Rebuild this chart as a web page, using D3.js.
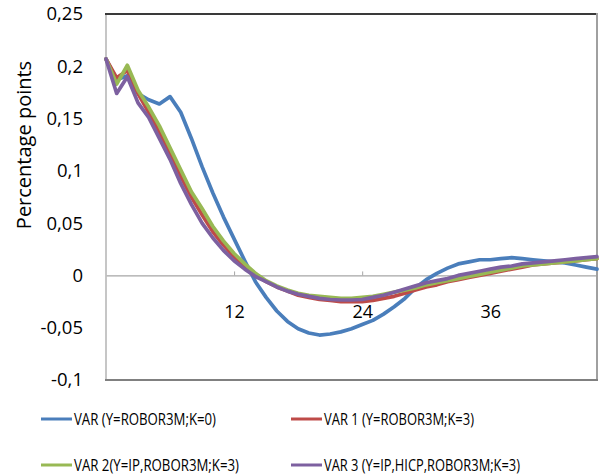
<!DOCTYPE html>
<html>
<head>
<meta charset="utf-8">
<script src="https://cdn.jsdelivr.net/npm/d3@7"></script>
<style>
  body { margin: 0; background: #fff; }
  text { font-family: "Open Sans", sans-serif; fill: #000; }
</style>
</head>
<body>
<svg id="chart" width="605" height="476"></svg>
<script>
// months after the shock, 0..46
var months = d3.range(0, 47);

var varBase = [0.207, 0.187, 0.191, 0.174, 0.168, 0.164, 0.171, 0.156, 0.131, 0.104,
  0.079, 0.056, 0.035, 0.014, -0.006, -0.021, -0.034, -0.044, -0.051, -0.055,
  -0.057, -0.056, -0.054, -0.051, -0.047, -0.043, -0.037, -0.030, -0.022, -0.012,
  -0.004, 0.002, 0.007, 0.011, 0.013, 0.015, 0.015, 0.016, 0.017, 0.016,
  0.015, 0.014, 0.013, 0.012, 0.010, 0.008, 0.006];

var var1 = [0.207, 0.189, 0.196, 0.174, 0.156, 0.137, 0.117, 0.095, 0.075, 0.058,
  0.042, 0.029, 0.018, 0.009, 0.001, -0.006, -0.011, -0.015, -0.019, -0.021,
  -0.023, -0.024, -0.025, -0.025, -0.025, -0.024, -0.022, -0.020, -0.017, -0.014,
  -0.011, -0.009, -0.006, -0.004, -0.002, 0.000, 0.002, 0.004, 0.006, 0.008,
  0.010, 0.011, 0.012, 0.013, 0.014, 0.015, 0.016];

var var2 = [0.207, 0.183, 0.201, 0.177, 0.161, 0.143, 0.122, 0.101, 0.080, 0.064,
  0.047, 0.033, 0.021, 0.011, 0.002, -0.005, -0.010, -0.014, -0.017, -0.019,
  -0.020, -0.021, -0.022, -0.022, -0.021, -0.020, -0.018, -0.016, -0.014, -0.012,
  -0.009, -0.007, -0.005, -0.003, -0.001, 0.001, 0.003, 0.005, 0.007, 0.009,
  0.010, 0.011, 0.012, 0.013, 0.014, 0.015, 0.016];

var var3 = [0.207, 0.174, 0.190, 0.165, 0.151, 0.131, 0.111, 0.088, 0.068, 0.050,
  0.036, 0.024, 0.014, 0.006, -0.001, -0.006, -0.011, -0.015, -0.018, -0.020,
  -0.022, -0.023, -0.0235, -0.0235, -0.023, -0.021, -0.019, -0.016, -0.013, -0.010,
  -0.007, -0.005, -0.003, 0.000, 0.002, 0.004, 0.006, 0.008, 0.009, 0.011,
  0.012, 0.013, 0.014, 0.015, 0.016, 0.017, 0.018];

var seriesNames = ["VAR (Y=ROBOR3M;K=0)", "VAR 1 (Y=ROBOR3M;K=3)",
  "VAR 2(Y=IP,ROBOR3M;K=3)", "VAR 3 (Y=IP,HICP,ROBOR3M;K=3)"];
var seriesColors = ["#4a7ebb", "#be4b48", "#98b954", "#7d60a0"];

var yTicks = [-0.1, -0.05, 0, 0.05, 0.1, 0.15, 0.2, 0.25];
var xTicks = [12, 24, 36];

var svg = d3.select("#chart");

var x = d3.scaleLinear().domain([0, 46]).range([106, 597]);
var y = d3.scaleLinear().domain([-0.1, 0.25]).range([380, 14]);

// comma as decimal mark
var loc = d3.formatLocale({decimal: ",", thousands: ".", grouping: [3], currency: ["", ""], minus: "-"});
var fmt = loc.format("~g");

// y axis labels
var yAxis = svg.append("g")
  .attr("transform", "translate(106,0)")
  .call(d3.axisLeft(y).tickValues(yTicks).tickFormat(fmt).tickSize(0).tickPadding(23));
yAxis.select(".domain").remove();
yAxis.selectAll("text").style("font-size", "18.5px").style("font-family", "Open Sans, sans-serif").attr("fill", "#000");

// x axis sits on zero
var xAxis = svg.append("g")
  .attr("transform", "translate(0," + y(0) + ")")
  .call(d3.axisBottom(x).tickValues(xTicks).tickFormat(d3.format("d")).tickSizeInner(-4).tickSizeOuter(0).tickPadding(30));
xAxis.select(".domain").attr("stroke", "#a6a6a6").attr("stroke-width", 1.2);
xAxis.selectAll(".tick line").attr("stroke", "#a6a6a6");
xAxis.selectAll("text").style("font-size", "18px").style("font-family", "Open Sans, sans-serif").attr("fill", "#000");

// plot frame
svg.append("line").attr("x1", 106).attr("x2", 106).attr("y1", 14).attr("y2", 380)
  .attr("stroke", "#b3b3b3").attr("stroke-width", 1.5);
svg.append("line").attr("x1", 105).attr("x2", 597).attr("y1", 14).attr("y2", 14)
  .attr("stroke", "#3a3a3a").attr("stroke-width", 2);
svg.append("line").attr("x1", 597).attr("x2", 597).attr("y1", 13).attr("y2", 381)
  .attr("stroke", "#a0a0a0").attr("stroke-width", 2);
svg.append("line").attr("x1", 105).attr("x2", 598).attr("y1", 380).attr("y2", 380)
  .attr("stroke", "#808080").attr("stroke-width", 2);

// y title
svg.append("text")
  .attr("transform", "translate(31,145) rotate(-90)")
  .attr("text-anchor", "middle")
  .style("font-size", "20px")
  .text("Percentage points");

var line = d3.line()
  .x(function(d, i) { return x(months[i]); })
  .y(function(d) { return y(d); });

var allSeries = [varBase, var1, var2, var3];
svg.append("g").selectAll("path")
  .data(allSeries)
  .enter().append("path")
    .attr("d", line)
    .attr("fill", "none")
    .attr("stroke", function(d, i) { return seriesColors[i]; })
    .attr("stroke-width", 3.7)
    .attr("stroke-linejoin", "round")
    .attr("stroke-linecap", "round");

// legend, two columns
var legPos = [[41, 419], [291, 419], [41, 465], [291, 465]];
var legWidth = [142, 150, 165, 196];
var leg = svg.append("g").selectAll("g")
  .data(seriesNames)
  .enter().append("g")
    .attr("transform", function(d, i) { return "translate(" + legPos[i][0] + "," + legPos[i][1] + ")"; });
leg.append("line")
  .attr("x1", 0).attr("x2", 31)
  .attr("stroke", function(d, i) { return seriesColors[i]; })
  .attr("stroke-width", 3);
leg.append("text")
  .attr("x", 33)
  .attr("dy", "0.36em")
  .attr("textLength", function(d, i) { return legWidth[i]; })
  .attr("lengthAdjust", "spacingAndGlyphs")
  .style("font-size", "15.5px")
  .text(function(d) { return d; });
</script>
</body>
</html>
